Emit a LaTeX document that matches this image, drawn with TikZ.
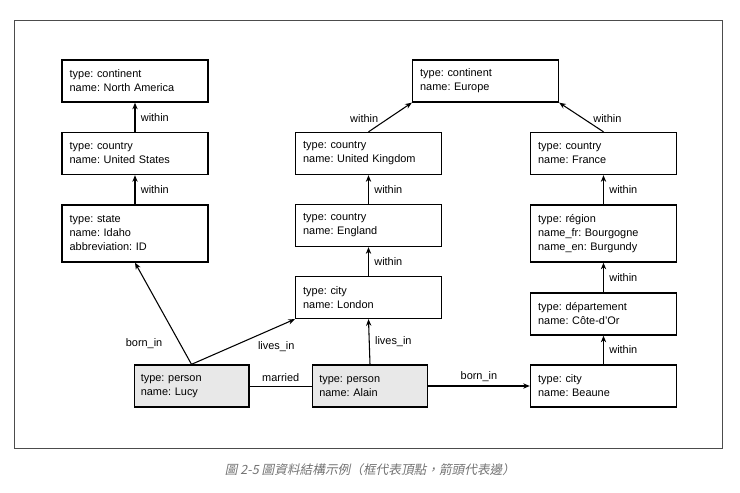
\documentclass[tikz,border=0pt]{standalone}
\usepackage{fontspec}
\setmainfont{Liberation Sans}
\newfontfamily\cjk[FakeSlant=0.2]{Noto Sans CJK TC}
\usetikzlibrary{arrows.meta}
\frenchspacing
\begin{document}
\tikzset{every picture/.style={line width=0.75pt}}
\tikzset{vertex/.style={draw,line width=1pt,minimum width=109.5pt,text width=98pt,align=left,inner sep=0pt,
  font=\fontsize{8.2}{10.5}\selectfont,minimum height=31.5pt},
  person/.style={vertex,fill=gray!18,minimum width=86pt,text width=76pt},
  edge/.style={-{Stealth[length=5pt,width=4pt]},line width=0.8pt},
  lbl/.style={font=\fontsize{8.2}{10}\selectfont,inner sep=1pt}}
\begin{tikzpicture}[x=0.75pt,y=0.75pt,yscale=-1,xscale=1]
\useasboundingbox (0,0) rectangle (740,493);
%frame
\draw [line width=0.6pt,black!70] (14,20) rectangle (722,448);

% Vertices
\node [vertex] (na) at (135,81) {type: continent\\name: North America};
\node [vertex] (us) at (135,153.5) {type: country\\name: United States};
\node [vertex,minimum height=42.75pt] (idaho) at (135,233.5) {type: state\\name: Idaho\\abbreviation: ID};
\node [vertex] (eu) at (485.5,81) {type: continent\\name: Europe};
\node [vertex] (uk) at (368.5,153.5) {type: country\\name: United Kingdom};
\node [vertex] (eng) at (368.5,225.5) {type: country\\name: England};
\node [vertex] (lon) at (368.5,297.5) {type: city\\name: London};
\node [vertex] (fr) at (603.5,153.5) {type: country\\name: France};
\node [vertex,minimum height=42.75pt] (reg) at (603.5,233.5) {type: région\\name\_fr: Bourgogne\\name\_en: Burgundy};
\node [vertex] (dep) at (603.5,314) {type: département\\name: Côte-d’Or};
\node [vertex] (beaune) at (603.5,386) {type: city\\name: Beaune};
\node [person] (lucy) at (191.5,386) {type: person\\name: Lucy};
\node [person] (alain) at (370,386) {type: person\\name: Alain};

% Edges
\draw [edge] (us) -- (na) node [lbl,midway,right=3pt] {within};
\draw [edge] (idaho) -- (us) node [lbl,midway,right=3pt] {within};
\draw [edge] (uk.north) -- (eu.south west) node [lbl,pos=0.45,left=6pt] {within};
\draw [edge] (fr.north) -- (eu.south east) node [lbl,pos=0.45,right=6pt] {within};
\draw [edge] (eng) -- (uk) node [lbl,midway,right=3pt] {within};
\draw [edge] (lon) -- (eng) node [lbl,midway,right=3pt] {within};
\draw [edge] (reg) -- (fr) node [lbl,midway,right=3pt] {within};
\draw [edge] (dep) -- (reg) node [lbl,midway,right=3pt] {within};
\draw [edge] (beaune) -- (dep) node [lbl,midway,right=3pt] {within};
\draw [edge] (lucy.north) -- (idaho.south) node [lbl,pos=0.2,left=12pt] {born\_in};
\draw [edge] (lucy.north) -- (lon.south west) node [lbl,pos=0.6,below right=2pt] {lives\_in};
\draw [edge] (alain.north) -- (lon.south) node [lbl,midway,right=3pt] {lives\_in};
\draw [line width=0.6pt] (lucy) -- (alain) node [lbl,midway,above=2pt] {married};
\draw [edge] (alain) -- (beaune) node [lbl,midway,above=2pt] {born\_in};

% Caption
\node [font=\cjk\fontsize{9.5}{11}\selectfont,text=black!55] (cap) at (370,470) {圖 2-5 圖資料結構示例（框代表頂點，箭頭代表邊）};
\end{tikzpicture}
\end{document}
